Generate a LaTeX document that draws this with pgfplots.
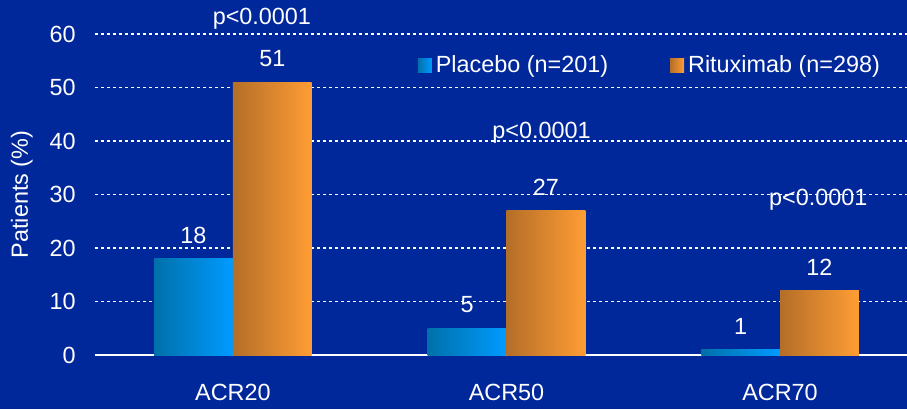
\documentclass[border=0pt]{standalone}
\usepackage{fontspec}
\setmainfont{Liberation Sans}
\usepackage{pgfplots}
\pgfplotsset{compat=1.18}
\definecolor{bg}{RGB}{0,40,155}
\definecolor{pl}{RGB}{0,112,170}
\definecolor{pr}{RGB}{0,155,255}
\definecolor{rl}{RGB}{180,110,40}
\definecolor{rr}{RGB}{255,157,52}
\newcommand{\ff}{\fontsize{11.7}{14}\selectfont}
\pgfplotsset{
  plac/.style={draw=none, left color=pl, right color=pr, bar shift=-0.144},
  ritu/.style={draw=none, left color=rl, right color=rr, bar shift=0.144},
}
\begin{document}
\begin{tikzpicture}
\fill[bg, use as bounding box] (-47.5pt,-27pt) rectangle (406pt,177.5pt);
\begin{axis}[
  at={(0,0)}, anchor=south west,
  scale only axis, width=406pt, height=160.5pt,
  xmin=-0.504, xmax=2.464, ymin=0, ymax=60,
  ybar, bar width=0.288,
  axis line style={draw=none},
  clip=false,
  xtick={0,1,2}, xticklabels={ACR20,ACR50,ACR70},
  ytick={10,20,...,60},
  extra y ticks={0},
  extra y tick style={ymajorgrids=true, major grid style={white, solid, line width=1pt}},
  major tick length=0pt,
  ymajorgrids,
  major grid style={white, dash pattern=on 1.4pt off 1.6pt, line width=0.95pt},
  tick label style={white, font=\ff},
  /pgf/number format/assume math mode=true,
  yticklabel style={xshift=-6.2pt},
  xticklabel style={yshift=-11pt},
  ylabel={Patients (\%)},
  ylabel style={white, font=\ff, at={(axis description cs:-0.09,0.5)}, anchor=center},
  nodes near coords,
  every node near coord/.append style={white, font=\ff, yshift=4.2pt},
  legend columns=2,
  legend style={at={(axis description cs:0.397,0.903)}, anchor=west, inner sep=0pt,
    draw=none, fill=none, text=white, font=\ff,
    /tikz/every even column/.append style={column sep=29pt}},
  legend image code/.code={\fill[#1] (0pt,-3.5pt) rectangle (7pt,3.5pt);},
]
\addplot[plac] coordinates {(0,18)};
\addlegendentry{Placebo (n=201)}
\addplot[ritu] coordinates {(0,51)};
\addlegendentry{Rituximab (n=298)}
\addplot[plac, forget plot] coordinates {(1,5)};
\addplot[ritu, forget plot] coordinates {(1,27)};
\addplot[plac, forget plot] coordinates {(2,1)};
\addplot[ritu, forget plot] coordinates {(2,12)};
\node[white, font=\ff] at (axis cs:0.106,62.8) {p<0.0001};
\node[white, font=\ff] at (axis cs:1.128,41.5) {p<0.0001};
\node[white, font=\ff] at (axis cs:2.14,29) {p<0.0001};
\end{axis}
\end{tikzpicture}
\end{document}
